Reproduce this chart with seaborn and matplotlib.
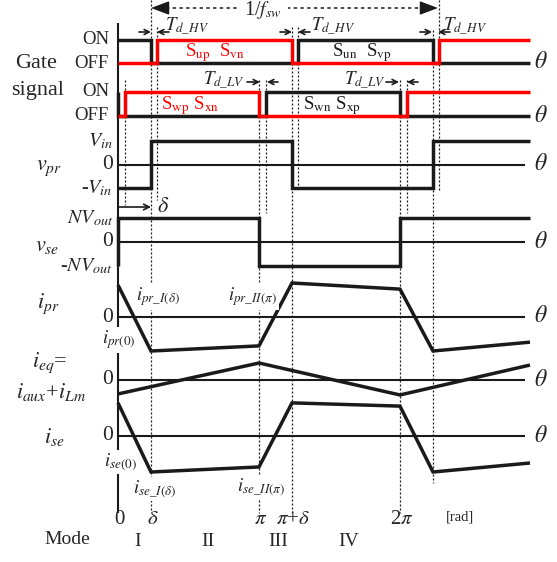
import numpy as np
import pandas as pd
import matplotlib
matplotlib.use("Agg")
import matplotlib.pyplot as plt
import seaborn as sns

sns.set_theme(style="white")
plt.rcParams["font.family"] = ["Liberation Serif", "DejaVu Serif"]
plt.rcParams["mathtext.fontset"] = "stix"
plt.rcParams["lines.solid_joinstyle"] = "miter"
plt.rcParams["lines.solid_capstyle"] = "butt"

# ---------------- data (theta in units of pi) ----------------
delta = 0.234
td_hv = 0.043
td_lv = 0.053
t_end = 2.922

hv_black_t = [0, delta, delta, 1 + delta + td_hv, 1 + delta + td_hv, 2 + delta, 2 + delta, t_end]
hv_black_v = [1, 1, 0, 0, 1, 1, 0, 0]
hv_red_t = [0, delta + td_hv, delta + td_hv, 1 + delta, 1 + delta, 2 + delta + td_hv, 2 + delta + td_hv, t_end]
hv_red_v = [0, 0, 1, 1, 0, 0, 1, 1]
lv_black_t = [0, 0, 1 + td_lv, 1 + td_lv, 2, 2, t_end]
lv_black_v = [1, 0, 0, 1, 1, 0, 0]
lv_red_t = [0, td_lv, td_lv, 1, 1, 2 + td_lv, 2 + td_lv, t_end]
lv_red_v = [0, 0, 1, 1, 0, 0, 1, 1]
vpr_t = [0, delta, delta, 1 + delta, 1 + delta, 2 + delta, 2 + delta, t_end]
vpr_v = [-1, -1, 1, 1, -1, -1, 1, 1]
vse_t = [0, 0, 1, 1, 2, 2, t_end]
vse_v = [-1, 1, 1, -1, -1, 1, 1]
ipr_t = [0, delta, 1, 1 + delta, 2, 2 + delta, t_end]
ipr_v = [0.94, -1.0, -0.85, 1.0, 0.82, -1.0, -0.74]
ieq_t = [0, 1, 2, t_end]
ieq_v = [-0.41, 0.50, -0.44, 0.44]
ise_t = [0, delta, 1, 1 + delta, 2, 2 + delta, t_end]
ise_v = [0.92, -1.0, -0.86, 0.92, 0.83, -1.0, -0.75]

tick_pos = [0, delta, 1, 1 + delta, 2]
tick_lab = ["0", r"$\delta$", r"$\pi$", r"$\pi$+$\delta$", r"2$\pi$"]
mode_lab = ["I", "II", "III", "IV"]

# ---------------- figure ----------------
fig = plt.figure(figsize=(5.57, 5.62), dpi=100)
ax = fig.add_axes([0, 0, 1, 1])
ax.set_xlim((0 - 118) / 141, (557 - 118) / 141)
ax.set_ylim(562, 0)
ax.axis("off")


def X(px):
    return (px - 118) / 141


LW = 2.5
RED = "#ff0000"


def trace(t, v, base, amp, color="k", lw=LW, z=3):
    df = pd.DataFrame({"theta": t, "y": [base - amp * s for s in v]})
    sns.lineplot(data=df, x="theta", y="y", sort=False, estimator=None,
                 color=color, linewidth=lw, ax=ax, zorder=z, legend=False)


# dotted guide lines: (theta, top px, bottom px)
guides = [
    (td_lv, 80, 205), (0 + delta, 0, 513), (delta + td_hv, 27, 200),
    (1, 80, 513), (1 + td_lv, 80, 213),
    (1 + delta, 27, 513), (1 + delta + td_hv, 27, 190),
    (2, 80, 513), (2 + td_lv, 80, 213),
    (2 + delta, 30, 483), (2 + delta + td_hv, 0, 192),
]
for t, y0, y1 in guides:
    ax.plot([t, t], [y0, y1], color="k", lw=0.9, ls=(0, (1.6, 1.6)), zorder=1)

# vertical axis line
ax.plot([0, 0], [23, 513], color="k", lw=1.5, zorder=2)

# zero lines
for base in [164.5, 242, 317, 380, 436]:
    ax.plot([0, X(525)], [base, base], color="k", lw=1.5, zorder=2)

# traces
trace(hv_black_t, hv_black_v, 63, 23)
trace(hv_red_t, hv_red_v, 63, 23, color=RED, z=4)
trace(lv_black_t, lv_black_v, 116, 24.5)
trace(lv_red_t, lv_red_v, 116, 24.5, color=RED, z=4)
trace(vpr_t, vpr_v, 164.5, 23.5)
trace(vse_t, vse_v, 242, 24)
trace(ipr_t, ipr_v, 317, 34)
trace(ieq_t, ieq_v, 380, 34)
trace(ise_t, ise_v, 436, 36)

FS = 13.5
# theta labels
for y in [63, 116, 164.5, 242, 317, 380, 436]:
    ax.text(X(541), y, r"$\theta$", fontsize=17, ha="center", va="center")

# left labels
ax.text(X(36), 64, "Gate", fontsize=16, ha="center", va="center")
ax.text(X(38), 90, "signal", fontsize=16, ha="center", va="center")
for y, s in [(40, "ON"), (63, "OFF"), (91, "ON"), (116, "OFF")]:
    ax.text(X(109), y, s, fontsize=FS, ha="right", va="center")

ax.text(X(113), 141, r"$V_{in}$", fontsize=FS + 1, ha="right", va="center")
ax.text(X(113), 164.5, "0", fontsize=FS + 2, ha="right", va="center")
ax.text(X(113), 188, r"-$V_{in}$", fontsize=FS + 1, ha="right", va="center")
ax.text(X(113), 218, r"$NV_{out}$", fontsize=FS + 1, ha="right", va="center")
ax.text(X(113), 242, "0", fontsize=FS + 2, ha="right", va="center")
ax.text(X(113), 266, r"-$NV_{out}$", fontsize=FS + 1, ha="right", va="center")
ax.text(X(113), 318, "0", fontsize=FS + 2, ha="right", va="center")
ax.text(X(113), 380, "0", fontsize=FS + 2, ha="right", va="center")
ax.text(X(113), 436, "0", fontsize=FS + 2, ha="right", va="center")

ax.text(X(49), 168, r"$v_{pr}$", fontsize=16, ha="center", va="center")
ax.text(X(47), 246, r"$v_{se}$", fontsize=16, ha="center", va="center")
ax.text(X(48), 304, r"$i_{pr}$", fontsize=16, ha="center", va="center")
ax.text(X(50), 363, r"$i_{eq}$=", fontsize=16, ha="center", va="center")
ax.text(X(51), 392, r"$i_{aux}$+$i_{Lm}$", fontsize=16, ha="center", va="center")
ax.text(X(54), 437, r"$i_{se}$", fontsize=16, ha="center", va="center")

wb = dict(facecolor="white", edgecolor="none", pad=1.0)
ax.text(X(119), 340, r"$i_{pr(0)}$", fontsize=FS, ha="center", va="center", bbox=wb, zorder=5)
ax.text(X(120), 462, r"$i_{se(0)}$", fontsize=FS, ha="center", va="center", bbox=wb, zorder=5)
ax.text(X(158), 297, r"$i_{pr\_I(\delta)}$", fontsize=FS, ha="center", va="center", bbox=wb, zorder=5)
ax.text(X(253), 297, r"$i_{pr\_II(\pi)}$", fontsize=FS, ha="center", va="center", bbox=wb, zorder=5)
ax.text(X(155), 489, r"$i_{se\_I(\delta)}$", fontsize=FS, ha="center", va="center", bbox=wb, zorder=5)
ax.text(X(261), 487, r"$i_{se\_II(\pi)}$", fontsize=FS, ha="center", va="center", bbox=wb, zorder=5)

# switch labels
ax.text(X(215), 53, r"S$_{\rm up}$  S$_{\rm vn}$", fontsize=FS, color=RED, ha="center", va="center")
ax.text(X(362), 53, r"S$_{\rm un}$  S$_{\rm vp}$", fontsize=FS, color="k", ha="center", va="center")
ax.text(X(190), 106, r"S$_{\rm wp}$ S$_{\rm xn}$", fontsize=FS, color=RED, ha="center", va="center")
ax.text(X(332), 106, r"S$_{\rm wn}$ S$_{\rm xp}$", fontsize=FS, color="k", ha="center", va="center")

# dead-time arrows
def small_arrow(x_from, x_to, y):
    ax.annotate("", xy=(X(x_to), y), xytext=(X(x_from), y),
                arrowprops=dict(arrowstyle="->", color="k", lw=1.2,
                                shrinkA=0, shrinkB=0, mutation_scale=9))

for xc1, xc2 in [(151, 157), (292, 298), (432, 438)]:
    small_arrow(xc1 - 12, xc1, 32)
    small_arrow(xc2 + 12, xc2, 32)
for lab_x, y in [(165, 26), (311, 26), (443, 26)]:
    ax.text(X(lab_x), y, r"$T_{d\_HV}$", fontsize=FS, ha="left", va="center")

for xc1, xc2, lab_r in [(260, 267, 245), (399, 407, 386)]:
    small_arrow(xc1 - 13, xc1, 82)
    small_arrow(xc2 + 11, xc2, 82)
    ax.text(X(lab_r), 80, r"$T_{d\_LV}$", fontsize=FS, ha="right", va="center")

# 1/f_sw arrow
ax.plot([X(166), X(422)], [8, 8], color="k", lw=1.1, ls=(0, (2.2, 2.2)), zorder=2)
for tip, tail in [(151, 167), (438, 422)]:
    ax.annotate("", xy=(X(tip), 8), xytext=(X(tail), 8),
                arrowprops=dict(arrowstyle="-|>,head_length=0.8,head_width=0.3",
                                color="k", lw=1.0, shrinkA=0, shrinkB=0,
                                mutation_scale=14))
ax.text(X(263), 10, r"1/$f_{sw}$", fontsize=FS + 1, ha="center", va="center",
        bbox=dict(facecolor="white", edgecolor="none", pad=4), zorder=5)

# delta arrow
ax.annotate("", xy=(X(151), 207), xytext=(0, 207),
            arrowprops=dict(arrowstyle="->", color="k", lw=1.2,
                            shrinkA=0, shrinkB=0, mutation_scale=10))
ax.text(X(157), 208, r"$\delta$", fontsize=16, ha="left", va="center")

# bottom ticks & modes
for t, s in zip(tick_pos, tick_lab):
    ax.text(t + 0.01, 520, s, fontsize=15, ha="center", va="center")
ax.text(X(460), 517, "[rad]", fontsize=10.5, ha="center", va="center")
ax.text(X(67), 540, "Mode", fontsize=FS + 0.5, ha="center", va="center")
mode_pos = [delta / 2, (delta + 1) / 2, 1 + delta / 2, (1 + delta + 2) / 2]
for t, s in zip(mode_pos, mode_lab):
    ax.text(t + 0.02, 541, s, fontsize=FS + 0.5, ha="center", va="center")

fig.savefig("out.png", dpi=100)
